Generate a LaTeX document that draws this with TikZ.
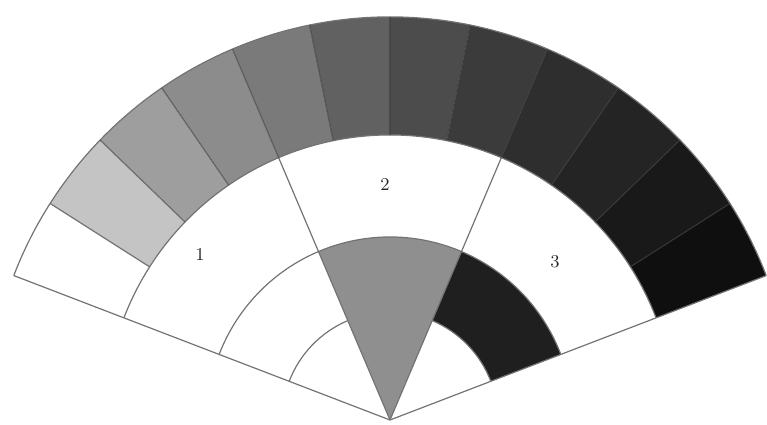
\documentclass[tikz,border=0pt]{standalone}
\usepackage{tikz}
\usetikzlibrary{calc}

\begin{document}
\begin{tikzpicture}[
    fanline/.style={draw=black!55, line width=0.6pt},
    bandline/.style={draw=black!75, line width=0.6pt, opacity=0.6},
    fanlabel/.style={font=\small, text=black!85, inner sep=1pt}
  ]
  \useasboundingbox (-195pt,-2pt) rectangle (188.5pt,210pt);

  % Ring radii
  \def\rOne{54pt}
  \def\rTwo{91.5pt}
  \def\rThree{142.5pt}
  \def\rFour{201.5pt}

  % Sector macro
  \newcommand{\fansector}[5]{
    % #1: from angle, #2: to angle, #3: inner radius, #4: outer radius, #5: fill
    \fill[#5] (#1:#3) arc (#1:#2:#3) -- (#2:#4) arc (#2:#1:#4) -- cycle;
  }

  % Outer band, light to dark
  \fansector{147.5}{159}{\rThree}{\rFour}{white}
  \fansector{136}{147.5}{\rThree}{\rFour}{black!23}
  \fansector{124.5}{136}{\rThree}{\rFour}{black!38}
  \fansector{113}{124.5}{\rThree}{\rFour}{black!45}
  \fansector{101.5}{113}{\rThree}{\rFour}{black!52}
  \fansector{90}{101.5}{\rThree}{\rFour}{black!62}
  \fansector{78.5}{90}{\rThree}{\rFour}{black!70}
  \fansector{67}{78.5}{\rThree}{\rFour}{black!77}
  \fansector{55.5}{67}{\rThree}{\rFour}{black!82}
  \fansector{44}{55.5}{\rThree}{\rFour}{black!86}
  \fansector{32.5}{44}{\rThree}{\rFour}{black!90}
  \fansector{21}{32.5}{\rThree}{\rFour}{black!94}

  % Inner grey wedge and dark ring piece
  \fill[black!44] (0,0) -- (67:\rTwo) arc (67:113:\rTwo) -- cycle;
  \fansector{21}{67}{\rOne}{\rTwo}{black!88}

  % Outline
  \draw[fanline] (159:\rFour) -- (0,0) -- (21:\rFour);
  \draw[fanline] (21:\rFour) arc (21:159:\rFour);
  \draw[fanline] (21:\rThree) arc (21:159:\rThree);
  \draw[fanline] (21:\rTwo) arc (21:159:\rTwo);
  \draw[fanline] (113:\rOne) arc (113:159:\rOne);
  \draw[fanline] (21:\rOne) arc (21:67:\rOne);
  \draw[fanline] (0,0) -- (113:\rThree);
  \draw[fanline] (0,0) -- (67:\rThree);

  % Band dividers
  \draw[fanline] (147.5:\rThree) -- (147.5:\rFour);
  \draw[bandline] (136:\rThree) -- (136:\rFour);
  \draw[bandline] (124.5:\rThree) -- (124.5:\rFour);
  \draw[bandline] (113:\rThree) -- (113:\rFour);
  \draw[bandline] (101.5:\rThree) -- (101.5:\rFour);
  \draw[bandline] (90:\rThree) -- (90:\rFour);
  \draw[bandline] (78.5:\rThree) -- (78.5:\rFour);
  \draw[bandline] (67:\rThree) -- (67:\rFour);
  \draw[bandline] (55.5:\rThree) -- (55.5:\rFour);
  \draw[bandline] (44:\rThree) -- (44:\rFour);
  \draw[bandline] (32.5:\rThree) -- (32.5:\rFour);

  % Labels
  \node[fanlabel] (lblOne) at (-95pt,82.5pt) {1};
  \node[fanlabel] (lblTwo) at (-2.5pt,117.5pt) {2};
  \node[fanlabel] (lblThree) at (82.5pt,79pt) {3};

\end{tikzpicture}
\end{document}
